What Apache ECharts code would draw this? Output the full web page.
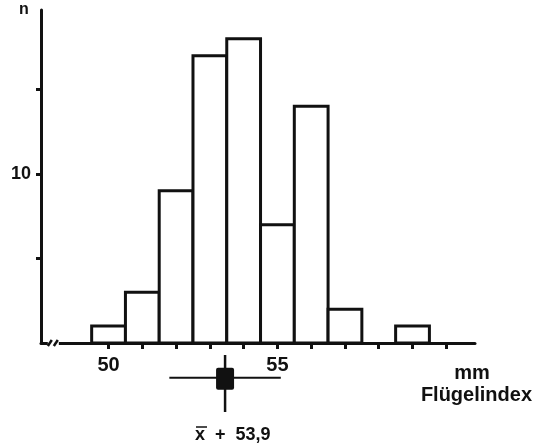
<!DOCTYPE html>
<html>
<head>
<meta charset="utf-8">
<script src="https://cdn.jsdelivr.net/npm/echarts@6/dist/echarts.min.js"></script>
<style>
  html, body { margin: 0; padding: 0; background: #fff; }
  #main { width: 534px; height: 447px; }
</style>
</head>
<body>
<div id="main"></div>
<script>
// Flügelindex classes (mm) and counts n
var classes = [50, 51, 52, 53, 54, 55, 56, 57, 58, 59];
var counts = [1, 3, 9, 17, 18, 7, 14, 2, 0, 1];
var xTicks = [50, 51, 52, 53, 54, 55, 56, 57, 58, 59, 60];
var xLabels = [50, 55];
var yTicks = [5, 10, 15];
var yLabels = [10];
// mean marker as drawn under the axis
var meanPos = 53.45;
var meanSpread = [51.8, 55.1];
var breakAt = [48.35];

var ink = '#111';
var fontFam = '"Liberation Sans", Arial, sans-serif';

var myChart = echarts.init(document.getElementById('main'));

var barData = classes.map(function (c, i) { return [c, counts[i]]; });

var option = {
  backgroundColor: '#fff',
  animation: false,
  grid: [
    { left: 41, right: 59, top: 10, bottom: 104 },
    { left: 41, right: 59, top: 355, height: 57 }
  ],
  xAxis: [
    {
      type: 'value', gridIndex: 0, min: 48, max: 60.85, interval: 1,
      splitLine: { show: false },
      axisLine: { onZero: false, lineStyle: { color: ink, width: 3 } },
      axisTick: { customValues: xTicks, length: 6, lineStyle: { color: ink, width: 3 } },
      axisLabel: {
        customValues: xLabels, margin: 12, color: ink,
        fontSize: 20, fontWeight: 'bold', fontFamily: fontFam
      }
    },
    { type: 'value', gridIndex: 1, min: 48, max: 60.85, show: false }
  ],
  yAxis: [
    {
      type: 'value', gridIndex: 0, min: 0, max: 19.7, interval: 5,
      splitLine: { show: false },
      axisLine: { show: true, lineStyle: { color: ink, width: 3 } },
      axisTick: { customValues: yTicks, length: 5, lineStyle: { color: ink, width: 3 } },
      axisLabel: {
        customValues: yLabels, margin: 10, color: ink,
        fontSize: 18, fontWeight: 'bold', fontFamily: fontFam
      }
    },
    { type: 'value', gridIndex: 1, min: -1.5, max: 1, show: false }
  ],
  series: [
    {
      type: 'custom',
      xAxisIndex: 0, yAxisIndex: 0,
      data: barData,
      renderItem: function (params, api) {
        var c = api.value(0), v = api.value(1);
        if (!v) return null;
        var p0 = api.coord([c - 0.5, v]);
        var p1 = api.coord([c + 0.5, 0]);
        return {
          type: 'rect',
          shape: { x: p0[0], y: p0[1], width: p1[0] - p0[0], height: p1[1] - p0[1] },
          style: { fill: '#fff', stroke: ink, lineWidth: 3 }
        };
      },
      z: 1
    },
    {
      // axis break mark
      type: 'custom',
      xAxisIndex: 0, yAxisIndex: 0,
      data: breakAt,
      renderItem: function (params, api) {
        var p = api.coord([api.value(0), 0]);
        return {
          type: 'group',
          children: [
            { type: 'rect', shape: { x: p[0] - 5, y: p[1] - 3, width: 11, height: 6 }, style: { fill: '#fff' } },
            { type: 'line', shape: { x1: p[0] - 5, y1: p[1] + 3, x2: p[0] - 1, y2: p[1] - 3 }, style: { stroke: ink, lineWidth: 2.5 } },
            { type: 'line', shape: { x1: p[0] + 1, y1: p[1] + 3, x2: p[0] + 5, y2: p[1] - 3 }, style: { stroke: ink, lineWidth: 2.5 } }
          ]
        };
      },
      z: 5
    },
    {
      // mean with spread
      type: 'custom',
      xAxisIndex: 1, yAxisIndex: 1,
      data: [meanPos],
      renderItem: function (params, api) {
        var m = api.value(0);
        var a = api.coord([meanSpread[0], 0]);
        var b = api.coord([meanSpread[1], 0]);
        var t = api.coord([m, 1]);
        var u = api.coord([m, -1.5]);
        return {
          type: 'group',
          children: [
            { type: 'line', shape: { x1: a[0], y1: a[1], x2: b[0], y2: b[1] }, style: { stroke: ink, lineWidth: 2 } },
            { type: 'line', shape: { x1: t[0], y1: t[1], x2: u[0], y2: u[1] }, style: { stroke: ink, lineWidth: 2.5 } },
            { type: 'rect', shape: { x: t[0] - 9, y: a[1] - 10, width: 18, height: 22, r: 2 }, style: { fill: ink } }
          ]
        };
      }
    }
  ],
  graphic: [
    { type: 'text', left: 'auto', x: 24, y: 10, style: { text: 'n', fill: ink, font: 'bold 16px ' + fontFam, textAlign: 'center', textVerticalAlign: 'middle' } },
    { type: 'text', x: 472, y: 373, style: { text: 'mm', fill: ink, font: 'bold 20px ' + fontFam, textAlign: 'center', textVerticalAlign: 'middle' } },
    { type: 'text', x: 532, y: 395, style: { text: 'Flügelindex', fill: ink, font: 'bold 20px ' + fontFam, textAlign: 'right', textVerticalAlign: 'middle' } },
    { type: 'text', x: 195, y: 435, style: { text: 'x  +  53,9', fill: ink, font: 'bold 18px ' + fontFam, textAlign: 'left', textVerticalAlign: 'middle' } },
    { type: 'line', shape: { x1: 196, y1: 427, x2: 207, y2: 427 }, style: { stroke: ink, lineWidth: 1.5 } }
  ]
};

option && myChart.setOption(option);
</script>
</body>
</html>
